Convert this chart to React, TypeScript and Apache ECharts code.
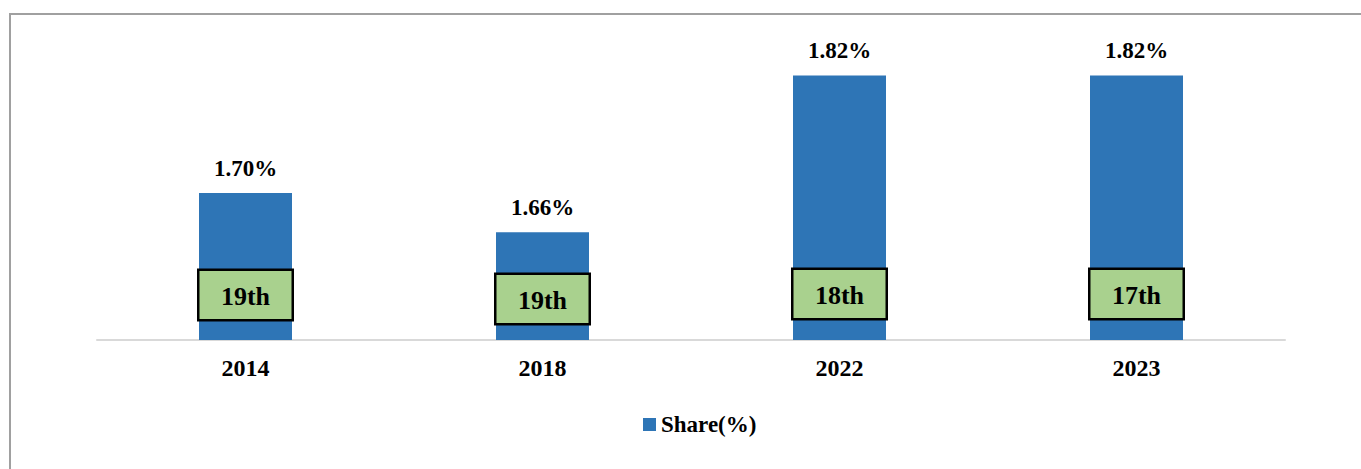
import React, { useEffect, useRef } from "react";
import * as echarts from "echarts";

const categories = ["2014", "2018", "2022", "2023"];
const shareValues = [1.70, 1.66, 1.82, 1.82];
const ranks = ["19th", "19th", "18th", "17th"];
const seriesName = "Share(%)";

const FONT = "'Liberation Serif', 'Times New Roman', serif";

export default function App() {
  const ref = useRef<HTMLDivElement>(null);
  useEffect(() => {
    if (!ref.current) return;
    const chart = echarts.init(ref.current, undefined, { renderer: "svg" });
    const rankDistances = [21, 17, 22, 22];
    chart.setOption({
      animation: false,
      backgroundColor: "#ffffff",
      graphic: [
        {
          type: "rect",
          shape: { x: 10, y: 14, width: 1360, height: 470 },
          style: { fill: "none", stroke: "#a0a0a0", lineWidth: 2 },
          silent: true,
        },
      ],
      legend: {
        data: [seriesName],
        left: 638,
        top: 408,
        itemWidth: 13,
        itemHeight: 13,
        itemGap: 4,
        icon: "rect",
        textStyle: { fontFamily: FONT, fontWeight: "bold", fontSize: 23, color: "#000" },
      },
      grid: { left: 97, right: 76, top: 46, bottom: 129, containLabel: false },
      xAxis: {
        type: "category",
        data: categories,
        axisLine: { show: true, lineStyle: { color: "#d9d9d9", width: 2 } },
        axisTick: { show: false },
        axisLabel: {
          margin: 16,
          fontFamily: FONT,
          fontWeight: "bold",
          fontSize: 24,
          color: "#000",
        },
      },
      yAxis: {
        type: "value",
        min: 1.55,
        max: 1.85,
        show: false,
        splitLine: { show: false },
      },
      series: [
        {
          name: seriesName,
          type: "bar",
          data: shareValues,
          barWidth: 93,
          itemStyle: { color: "#2E75B6" },
          label: {
            show: true,
            position: "top",
            distance: 13,
            formatter: (p: any) => Number(p.value).toFixed(2) + "%",
            fontFamily: FONT,
            fontWeight: "bold",
            fontSize: 23,
            color: "#000",
          },
        },
        {
          name: "Rank",
          type: "bar",
          data: shareValues.map((v, i) => ({
            value: v,
            label: { distance: rankDistances[i] },
          })),
          barWidth: 93,
          barGap: "-100%",
          itemStyle: { color: "rgba(0,0,0,0)" },
          silent: true,
          z: 5,
          label: {
            show: true,
            position: "insideBottom",
            formatter: (p: any) => ranks[p.dataIndex],
            fontFamily: FONT,
            fontWeight: "bold",
            fontSize: 26,
            color: "#000",
            backgroundColor: "#A9D18E",
            borderColor: "#000",
            borderWidth: 2.5,
            width: 92,
            height: 48,
            lineHeight: 46,
            align: "center",
            verticalAlign: "bottom",
          },
        },
      ],
    });
    return () => chart.dispose();
  }, []);
  return (
    <div
      ref={ref}
      style={{ position: "absolute", left: 0, top: 0, width: 1361, height: 469 }}
    />
  );
}
